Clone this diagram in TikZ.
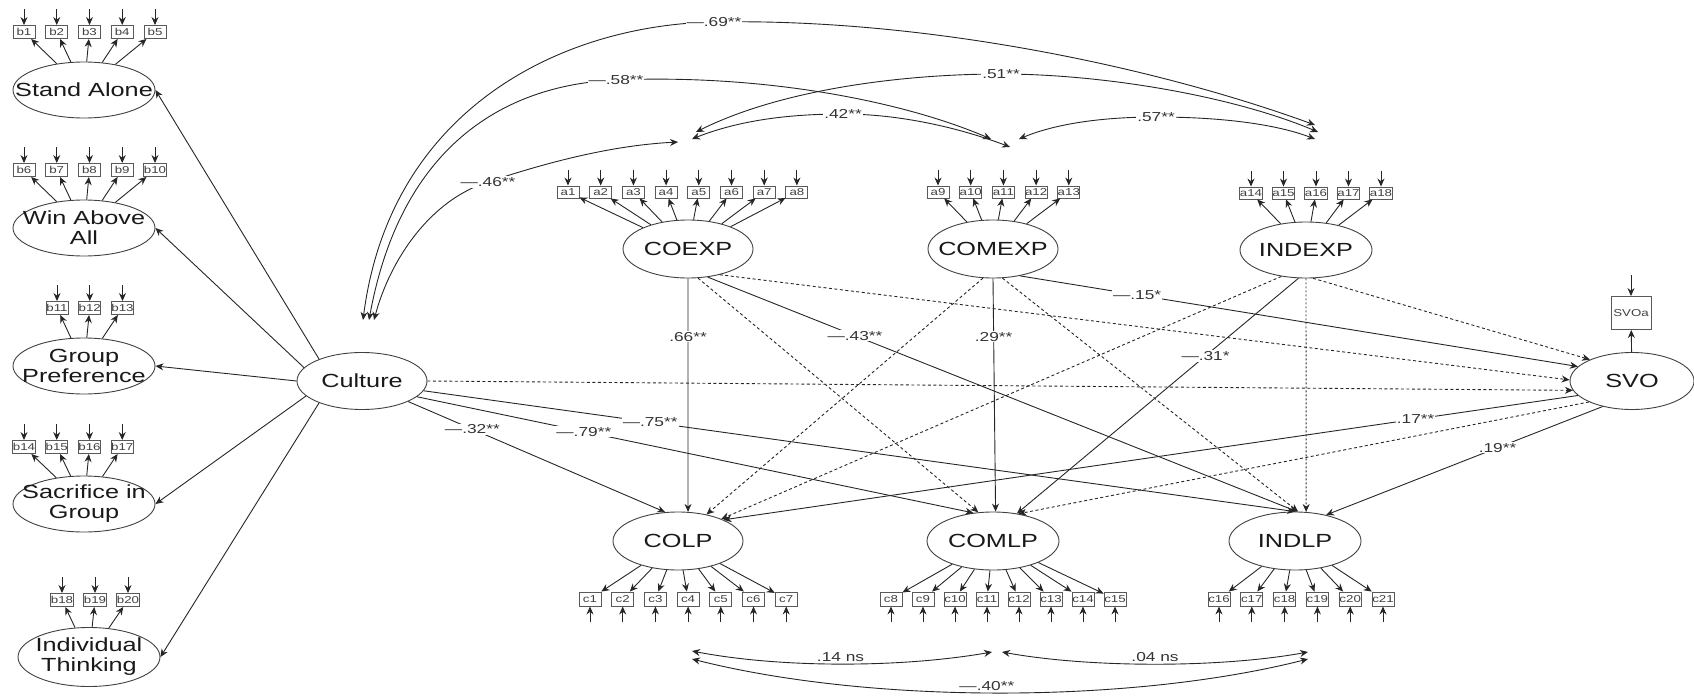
\documentclass[tikz,border=0pt]{standalone}
\usepackage{fontspec}
\setmainfont[FakeStretch=1.33]{Liberation Sans}
\usetikzlibrary{arrows.meta,shapes.geometric}

\tikzset{
  lat/.style={ellipse,draw=black!75,inner xsep=-25pt,inner ysep=-6pt,
    minimum width=130pt,minimum height=58pt,align=center,
    font=\fontsize{19}{20}\selectfont,text=black!90},
  fac/.style={lat,minimum width=142pt,minimum height=56pt},
  obs/.style={rectangle,draw=black!65,inner sep=0pt,minimum width=22pt,
    minimum height=13pt,font=\fontsize{10}{10}\selectfont,text=black!75},
  reg/.style={-{Stealth[length=8pt,width=7pt]}},
  ns/.style={reg,dash pattern=on 3pt off 2.5pt},
  dots/.style={reg,dash pattern=on 2pt off 2pt},
  cov/.style={{Stealth[length=8pt,width=7pt]}-{Stealth[length=8pt,width=7pt]}},
  coef/.style={fill=white,inner sep=1pt,font=\fontsize{13}{14}\selectfont,text=black!80},
  coefb/.style={coef,fill=none,above,yshift=1pt},
}

\begin{document}
\begin{tikzpicture}[x=1pt,y=-1pt,line width=0.9pt,color=black!85]
\useasboundingbox (0,0) rectangle (1694,696);

% culture factors on the left
\node[fac] (SA) at (84,90) {Stand Alone};
\node[fac] (WAA) at (84,228) {Win Above\\All};
\node[fac] (GP) at (84,366) {Group\\Preference};
\node[fac] (SIG) at (84,504) {Sacrifice in\\Group};
\node[fac,minimum height=59pt] (IT) at (89,657) {Individual\\Thinking};
\node[lat,minimum height=57pt] (Culture) at (362,381) {Culture};

\foreach \i in {1,...,5} {
  \node[obs] (b\i) at ({24+32.75*(\i-1)},32) {b\i};
  \draw[reg] (SA) -- (b\i);
}
\foreach \i in {6,...,10} {
  \node[obs] (b\i) at ({24+32.75*(\i-6)},170) {b\i};
  \draw[reg] (WAA) -- (b\i);
}
\foreach \i in {11,12,13} {
  \node[obs] (b\i) at ({57+32.75*(\i-11)},308) {b\i};
  \draw[reg] (GP) -- (b\i);
}
\foreach \i in {14,...,17} {
  \node[obs] (b\i) at ({24+32.75*(\i-14)},447) {b\i};
  \draw[reg] (SIG) -- (b\i);
}
\foreach \i in {18,19,20} {
  \node[obs] (b\i) at ({62+33*(\i-18)},600) {b\i};
  \draw[reg] (IT) -- (b\i);
}
\foreach \i in {1,...,20} {
  \coordinate (eb\i) at ([yshift=16pt]b\i.north);
  \draw[reg] (eb\i) -- (b\i);
}

\draw[reg] (Culture.153) -- (SA.east);
\draw[reg] (Culture.167) -- (WAA.east);
\draw[reg] (Culture.180) -- (GP.east);
\draw[reg] (Culture.195) -- (SIG.east);
\draw[reg] (Culture.207) -- (IT.east);

% experience factors
\node[lat] (COEXP) at (688,249) {COEXP};
\node[lat] (COMEXP) at (993,249) {COMEXP};
\node[lat,minimum width=132pt,minimum height=56pt] (INDEXP) at (1306,250) {INDEXP};

\foreach \i in {1,...,8} {
  \node[obs,minimum height=12pt] (a\i) at ({568+32.7*(\i-1)},192) {a\i};
  \draw[reg] (COEXP) -- (a\i);
}
\foreach \i in {9,...,13} {
  \node[obs,minimum height=12pt] (a\i) at ({938+32.7*(\i-9)},192) {a\i};
  \draw[reg] (COMEXP) -- (a\i);
}
\foreach \i in {14,...,18} {
  \node[obs,minimum height=12pt] (a\i) at ({1251+32.5*(\i-14)},193) {a\i};
  \draw[reg] (INDEXP) -- (a\i);
}
\foreach \i in {1,...,18} {
  \coordinate (ea\i) at ([yshift=16pt]a\i.north);
  \draw[reg] (ea\i) -- (a\i);
}

% learning preference factors
\node[lat] (COLP) at (678,541) {COLP};
\node[lat,minimum width=132pt] (COMLP) at (993,541) {COMLP};
\node[lat,minimum width=132pt] (INDLP) at (1295,541) {INDLP};

\foreach \i in {1,...,7} {
  \node[obs,minimum height=14pt] (c\i) at ({590+32.7*(\i-1)},599) {c\i};
  \draw[reg] (COLP) -- (c\i);
}
\foreach \i in {8,...,15} {
  \node[obs,minimum height=14pt] (c\i) at ({891+32*(\i-8)},599) {c\i};
  \draw[reg] (COMLP) -- (c\i);
}
\foreach \i in {16,...,21} {
  \node[obs,minimum height=14pt] (c\i) at ({1219+32.8*(\i-16)},599) {c\i};
  \draw[reg] (INDLP) -- (c\i);
}
\foreach \i in {1,...,21} {
  \coordinate (ec\i) at ([yshift=-16pt]c\i.south);
  \draw[reg] (ec\i) -- (c\i);
}

% outcome
\node[lat,minimum width=124pt,minimum height=57pt] (SVO) at (1632,381) {SVO};
\node[obs,minimum width=40pt,minimum height=33pt] (SVOa) at (1631,313) {SVOa};
\coordinate (esvo) at ([yshift=21pt]SVOa.north);
\draw[reg] (esvo) -- (SVOa);
\draw[reg] (SVO) -- (SVOa);

% structural paths
\draw[reg] (Culture.336) -- node[coef,pos=.25] (k32) {—.32**} (COLP.114);
\draw[reg] (Culture.344) -- node[coef,pos=.3] (k79) {—.79**} (COMLP.125);
\draw[reg] (Culture.351) -- node[coef,pos=.26] (k75) {—.75**} (INDLP.90);
\draw[ns] (Culture.0) -- (SVO.189);

\draw[reg] (COEXP.270) -- node[coef,pos=.25] (k66) {.66**} (COLP.71);
\draw[ns] (COEXP.289) -- (COMLP.117);
\draw[reg] (COEXP.305) -- node[coef,pos=.25] (k43) {—.43**} (INDLP.86);
\draw[ns] (COEXP.321) -- (SVO.179);

\draw[ns] (COMEXP.251) -- (COLP.43);
\draw[reg] (COMEXP.270) -- node[coef,pos=.25] (k29) {.29**} (COMLP.85);
\draw[ns] (COMEXP.288) -- (INDLP.84);
\draw[reg] (COMEXP.315) -- node[coef,pos=.21] (k15) {—.15*} (SVO.165);

\draw[ns] (INDEXP.227) -- (COLP.27);
\draw[reg] (INDEXP.255) -- node[coef,pos=.33] (k31) {—.31*} (COMLP.49);
\draw[dots] (INDEXP.270) -- (INDLP.69);
\draw[ns] (INDEXP.284) -- (SVO.153);

\draw[reg] (SVO.195) -- node[coef,pos=.19] (k17) {.17**} (COLP.25);
\draw[ns] (SVO.206) -- (COMLP.47);
\draw[reg] (SVO.221) -- node[coef,pos=.38] (k19) {.19**} (INDLP.40);

% covariances
\coordinate (cu1) at (363,320);
\coordinate (cu2) at (369,320);
\coordinate (cu3) at (374,320);
\coordinate (t1a) at (678,142);
\coordinate (t1b) at (692,139);
\coordinate (t1c) at (696,132);
\coordinate (t2a) at (991,139);
\coordinate (t2b) at (1010,147);
\coordinate (t2c) at (1019,139);
\coordinate (t3a) at (1315,125);
\coordinate (t3b) at (1318,132);
\coordinate (t3c) at (1315,139);
\coordinate (d1a) at (692,651);
\coordinate (d1b) at (692,659);
\coordinate (d2a) at (992,652);
\coordinate (d2b) at (1002,652);
\coordinate (d3a) at (1308,652);
\coordinate (d3b) at (1308,659);

\draw[cov] (cu1) .. controls (390,110) and (560,25) .. (714,22) node[coef] (r69) {—.69**}
  .. controls (920,18) and (1150,65) .. (t3a);
\draw[cov] (cu2) .. controls (400,150) and (500,85) .. (616,80) node[coef] (r58) {—.58**}
  .. controls (760,74) and (900,100) .. (t2a);
\draw[cov] (cu3) .. controls (390,260) and (430,200) .. (488,182) node[coef] (r46) {—.46**}
  .. controls (560,158) and (620,145) .. (t1a);
\draw[cov] (t1b) .. controls (740,120) and (790,114) .. (843,114) node[coef] (r42) {.42**}
  .. controls (900,114) and (960,128) .. (t2b);
\draw[cov] (t1c) .. controls (780,90) and (900,74) .. (1001,74) node[coef] (r51) {.51**}
  .. controls (1100,74) and (1230,95) .. (t3b);
\draw[cov] (t2c) .. controls (1060,122) and (1110,117) .. (1156,117) node[coef] (r57) {.57**}
  .. controls (1210,117) and (1270,122) .. (t3c);

\draw[cov] (d1a) .. controls (780,668) and (900,668) .. node[coefb,midway] (r14) {.14 ns} (d2a);
\draw[cov] (d2b) .. controls (1090,668) and (1220,668) .. node[coefb,midway] (r04) {.04 ns} (d3a);
\draw[cov] (d1b) .. controls (870,704) and (1130,704) .. node[coefb,pos=.48] (r40) {—.40**} (d3b);
\end{tikzpicture}
\end{document}
